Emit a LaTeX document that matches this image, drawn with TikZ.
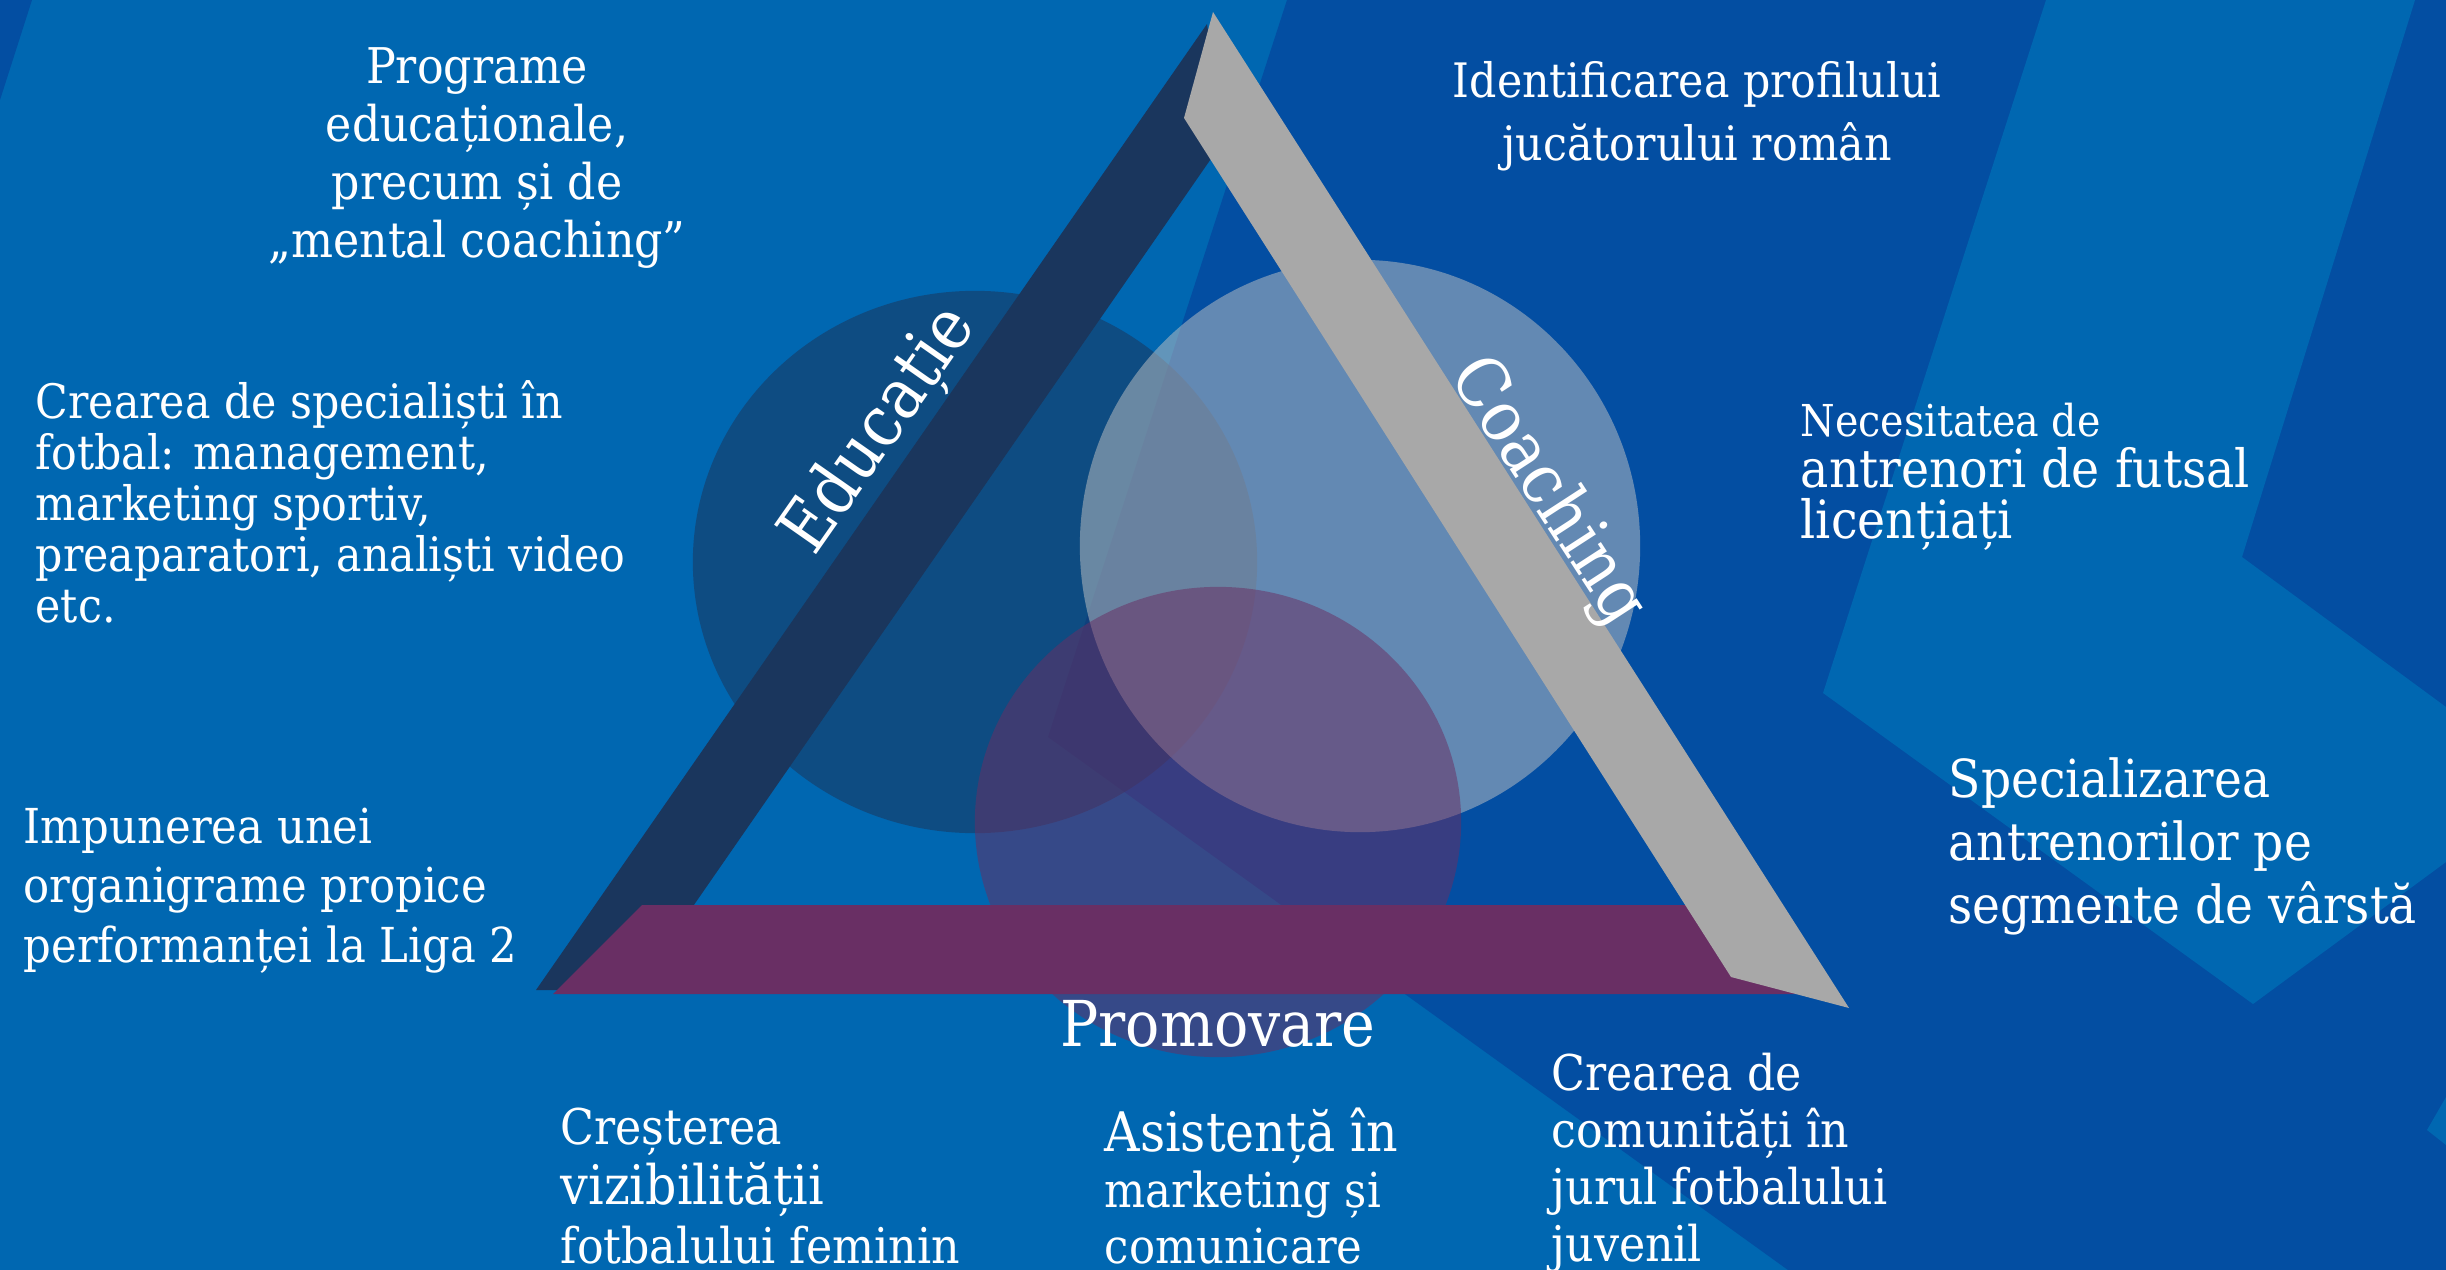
\documentclass[tikz,border=0pt]{standalone}
\usepackage{fontspec}
\setmainfont{DejaVu Serif Condensed}
\definecolor{bgmid}{HTML}{0067B1}
\definecolor{bgdark}{HTML}{034EA2}
\definecolor{barnavy}{HTML}{1A365D}
\definecolor{bargray}{HTML}{A8A8A8}
\definecolor{barpurple}{HTML}{692F64}
\definecolor{ringgray}{HTML}{C4C4C4}
\begin{document}
\begin{tikzpicture}[x=0.01cm, y=-0.01cm,
    txt/.style={text=white, inner sep=0pt},
    bar label/.style={txt, font=\fontsize{20}{24}\selectfont}]
    \useasboundingbox (0, 0) rectangle (2446, 1270);
    % background
    \fill[bgmid] (0, 0) rectangle (2446, 1270);
    \fill[bgdark] (0, 0) -- (32, 0) -- (0, 100) -- cycle;
    \fill[bgdark] (1287, 0) -- (2446, 0) -- (2446, 1270) -- (1788, 1270) -- (1048, 737) -- cycle;
    \fill[bgmid] (2046, 0) -- (2415, 0) -- (2242, 557) -- (2446, 707) -- (2446, 862) -- (2253, 1004) -- (1823, 693) -- cycle;
    \fill[bgmid] (2446, 1097) -- (2427, 1130) -- (2446, 1145) -- cycle;

    \fill[barnavy, opacity=0.55] (975, 562) ellipse [x radius=2.82cm, y radius=2.71cm];
    \fill[ringgray, opacity=0.5] (1360, 546) ellipse [x radius=2.80cm, y radius=2.86cm];
    \fill[barpurple, opacity=0.52] (1218, 822) ellipse [x radius=2.43cm, y radius=2.35cm];

    % the three bars
    \fill[barnavy] (1207, 24) -- (536, 990) -- (635, 990) -- (1224, 140) -- cycle;
    \fill[barpurple] (642, 905) -- (1720, 905) -- (1830, 994) -- (553, 994) -- cycle;
    \fill[bargray] (1213, 12) -- (1849, 1008) -- (1731, 977) -- (1184, 118) -- cycle;

    \node[txt, align=center, anchor=north, font=\fontsize{14}{16.5}\selectfont] (programe) at (477, 47) {Programe\\educaționale,\\precum și de\\„mental coaching”};
    \node[txt, align=center, anchor=north, font=\fontsize{13.5}{17.9}\selectfont] (profil) at (1697, 61) {Identificarea profilului\\jucătorului român};
    \node[txt, align=left, anchor=north west, font=\fontsize{13.5}{14.5}\selectfont] (specialisti) at (35, 380) {Crearea de specialiști în\\fotbal: management,\\marketing sportiv,\\preaparatori, analiști video\\etc.};
    \node[txt, align=left, anchor=north west, font=\fontsize{15}{14.5}\selectfont] (futsal) at (1800, 402) {{\fontsize{12.5}{14.5}\selectfont Necesitatea de}\\antrenori de futsal\\licențiați};
    \node[txt, align=left, anchor=north west, font=\fontsize{13.7}{16.9}\selectfont] (organigrama) at (23, 807) {Impunerea unei\\organigrame propice\\performanței la Liga 2};
    \node[txt, align=left, anchor=north west, font=\fontsize{14.9}{17.9}\selectfont] (varsta) at (1948, 757) {Specializarea\\antrenorilor pe\\segmente de vârstă};
    \node[txt, align=left, anchor=north west, font=\fontsize{14}{17}\selectfont] (feminin) at (560, 1107) {Creșterea\\{\fontsize{15.5}{17}\selectfont vizibilității}\\fotbalului feminin};
    \node[txt, align=left, anchor=north west, font=\fontsize{13.7}{16}\selectfont] (marketing) at (1104, 1107) {{\fontsize{15.5}{16}\selectfont Asistență în}\\marketing și\\comunicare};
    \node[txt, align=left, anchor=north west, font=\fontsize{14}{16.2}\selectfont] (comunitati) at (1551, 1052) {Crearea de\\comunități în\\jurul fotbalului\\juvenil};
    \node[txt, anchor=base, font=\fontsize{18}{20}\selectfont] (promovare) at (1218, 1046) {Promovare};

    \node[bar label, rotate=55] (educatie) at (880, 431) {Educație};
    \node[bar label, rotate=-57] (coaching) at (1547, 492) {Coaching};
\end{tikzpicture}
\end{document}
